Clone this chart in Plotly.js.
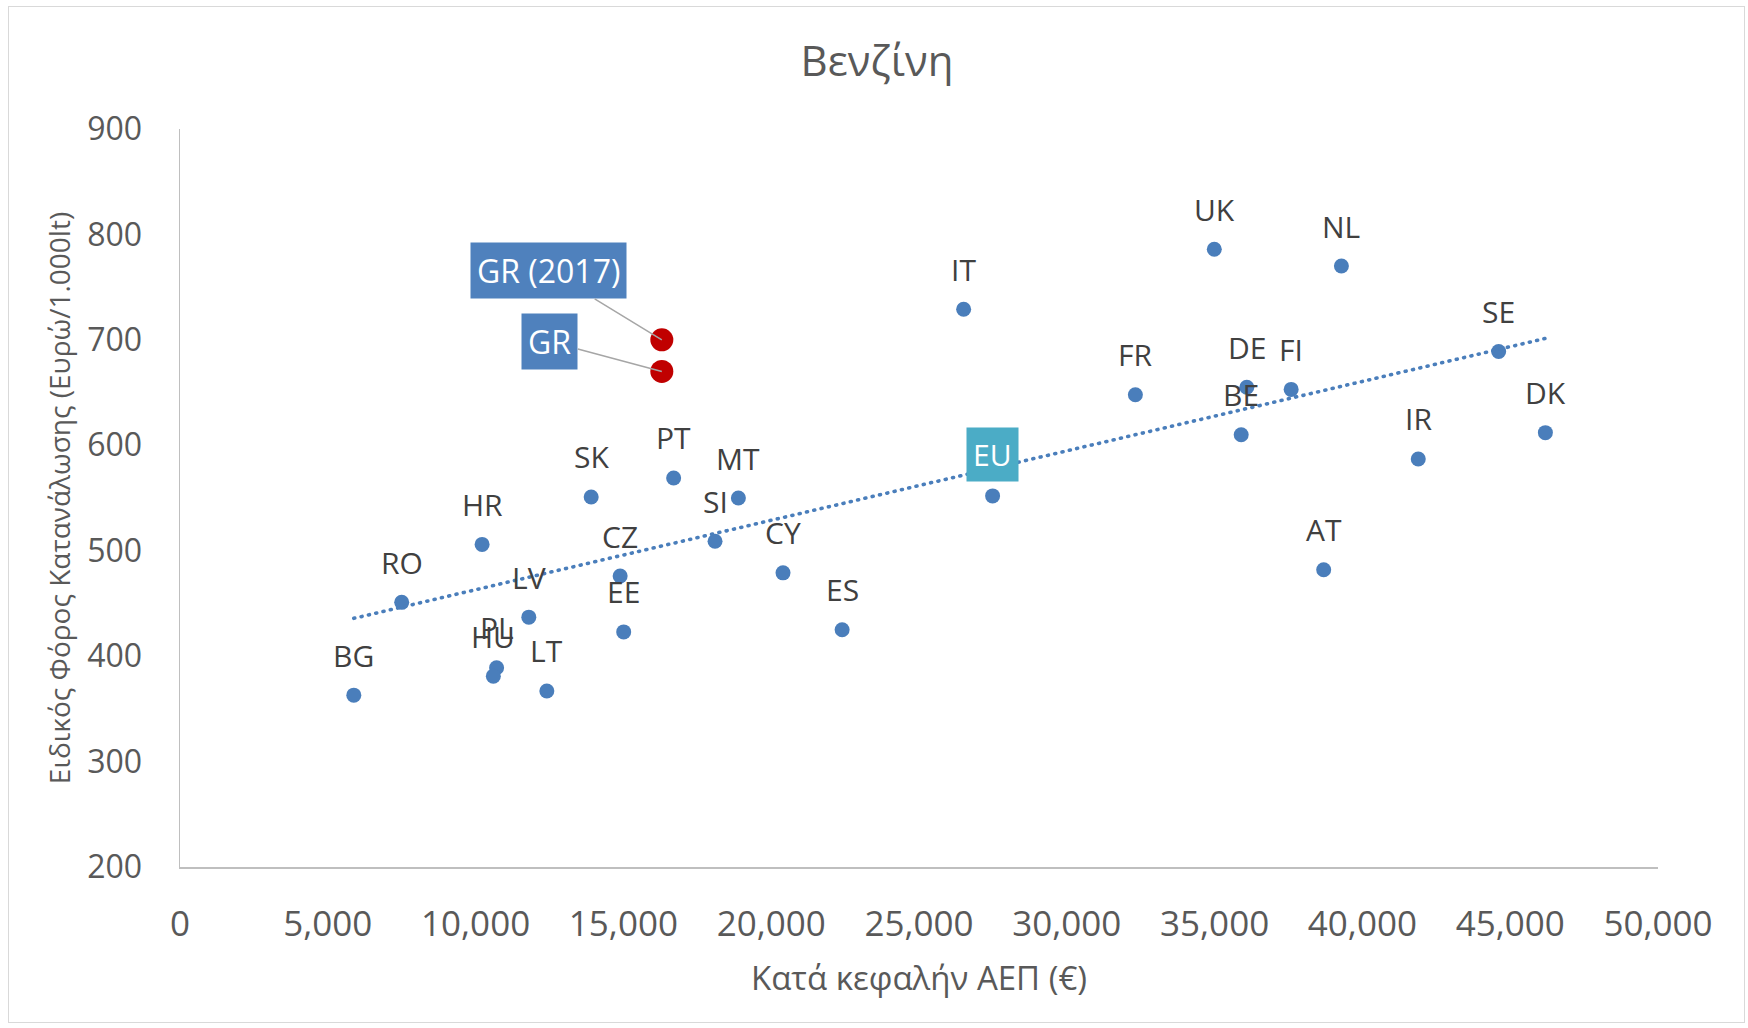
<!DOCTYPE html>
<html><head><meta charset="utf-8">
<script src="https://cdn.plot.ly/plotly-3.0.1.min.js"></script>
<style>
html,body{margin:0;padding:0;background:#fff;}
#chart{position:absolute;left:0;top:0;width:1748px;height:1028px;}
#frame{position:absolute;left:8px;top:6px;width:1737px;height:1017px;border:1px solid #d9d9d9;pointer-events:none;box-sizing:border-box;}
.scatterlayer .trace path.js-line{stroke-linecap:round;}
</style></head>
<body>
<div id="chart"></div><div id="frame"></div>
<script>
// ---- data ----
const codes = ['BG','RO','HR','LV','PL','HU','LT','SK','CZ','EE','PT','SI','MT','CY','ES','IT','FR','UK','BE','DE','FI','AT','NL','IR','SE','DK'];
const gdp   = [5880,7500,10220,11800,10710,10600,12410,13910,14890,15010,16700,18100,18890,20400,22400,26510,32320,34990,35900,36090,37590,38690,39290,41890,44610,46190];
const tax   = [363,451,506,437,389,381,367,551,476,423,569,509,550,479,425,729,648,786,610,655,653,482,770,587,689,612];

const grLabels = ['GR (2017)','GR'];
const grGdp    = [16300,16300];
const grTax    = [700,670];

const euLabel = ['EU'];
const euGdp   = [27490];
const euTax   = [552];

const xTicks = [0,5000,10000,15000,20000,25000,30000,35000,40000,45000,50000];
const yTicks = [200,300,400,500,600,700,800,900];

const chartTitle = 'Βενζίνη';
const xTitle = 'Κατά κεφαλήν ΑΕΠ (€)';
const yTitle = 'Ειδικός Φόρος Κατανάλωσης (Ευρώ/1.000lt)';

// ---- linear trend (least squares over all plotted points, like the spreadsheet trendline) ----
const allX = gdp.concat(grGdp, euGdp);
const allY = tax.concat(grTax, euTax);
const n = allX.length;
const mx = allX.reduce((a,b)=>a+b,0)/n;
const my = allY.reduce((a,b)=>a+b,0)/n;
let sxy=0, sxx=0;
for(let i=0;i<n;i++){ sxy+=(allX[i]-mx)*(allY[i]-my); sxx+=(allX[i]-mx)*(allX[i]-mx); }
const slope = sxy/sxx, icpt = my - slope*mx;
const tx = [Math.min(...allX), Math.max(...allX)];
const ty = tx.map(v=>icpt+slope*v);

const FONT = '"Open Sans", "Noto Sans", sans-serif';
const BLUE = '#4a7ebb';

const traces = [
  {x: gdp, y: tax, type:'scatter', mode:'markers', marker:{size:15, color:BLUE}, hoverinfo:'skip'},
  {x: euGdp, y: euTax, type:'scatter', mode:'markers', marker:{size:15, color:BLUE}, hoverinfo:'skip'},
  {x: grGdp, y: grTax, type:'scatter', mode:'markers', marker:{size:23, color:'#c00000'}, hoverinfo:'skip'},
  {x: tx, y: ty, type:'scatter', mode:'lines', line:{color:BLUE, width:3.6, dash:'1px,6.5px'}, hoverinfo:'skip'}
];

const annotations = [];
codes.forEach((c,i)=>{
  annotations.push({x:gdp[i], y:tax[i], xref:'x', yref:'y', text:c, showarrow:false, yshift:40,
    font:{family:FONT, size:30, color:'#404040'}});
});
annotations.push({x:euGdp[0], y:euTax[0], xref:'x', yref:'y', text:euLabel[0], showarrow:false, yshift:41,
  bgcolor:'#4bacc6', borderpad:6, font:{family:FONT, size:30, color:'#ffffff'}});
const grOffsets = [[-113,-69],[-112,-30]];
grLabels.forEach((t,i)=>{
  annotations.push({x:grGdp[i], y:grTax[i], xref:'x', yref:'y', text:t, showarrow:true, arrowhead:0,
    arrowwidth:1.5, arrowcolor:'#a6a6a6', ax:grOffsets[i][0], ay:grOffsets[i][1], standoff:0,
    bgcolor:'#4f81bd', borderpad:6, font:{family:FONT, size:32, color:'#ffffff'}});
});

const axisCommon = {showline:true, linecolor:'#bfbfbf', linewidth:1.5, showgrid:false, zeroline:false,
  ticks:'', fixedrange:true};

const layout = {
  width:1748, height:1028,
  margin:{l:180, r:90, t:129, b:161, pad:0},
  paper_bgcolor:'#ffffff', plot_bgcolor:'#ffffff',
  showlegend:false,
  font:{family:FONT, color:'#595959'},
  title:{text:chartTitle, font:{family:FONT, size:42, color:'#595959'}, x:877/1748, xref:'container', xanchor:'center',
    y:1-61/1028, yref:'container', yanchor:'middle'},
  xaxis:Object.assign({}, axisCommon, {range:[0,50000], tickvals:xTicks, tickformat:',d', ticklabelstandoff:25,
    tickfont:{family:FONT, size:35, color:'#595959'},
    title:{text:xTitle, font:{family:FONT, size:33, color:'#595959'}, standoff:22}}),
  yaxis:Object.assign({}, axisCommon, {range:[200,900], tickvals:yTicks, ticklabelstandoff:30,
    tickfont:{family:FONT, size:32, color:'#595959'},
    title:{text:yTitle, font:{family:FONT, size:28, color:'#595959'}, standoff:8}}),
  annotations:annotations
};

Plotly.newPlot('chart', traces, layout, {displayModeBar:false, staticPlot:true});
</script>
</body></html>
